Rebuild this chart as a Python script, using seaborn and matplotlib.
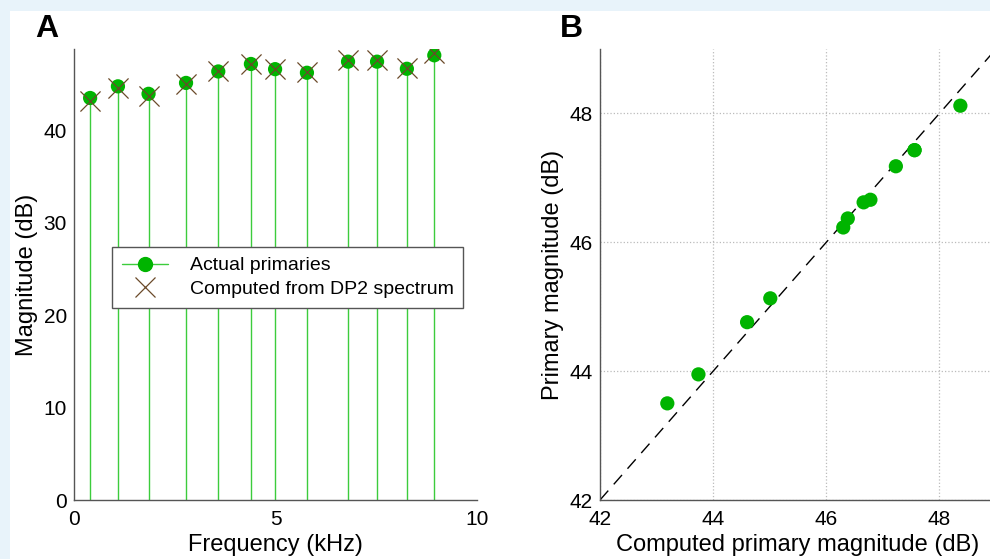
import numpy as np
import pandas as pd
import matplotlib.pyplot as plt
import seaborn as sns
from matplotlib.lines import Line2D
from matplotlib.patches import Rectangle
from matplotlib.legend_handler import HandlerLine2D

# primary frequencies (kHz) and magnitudes (dB)
freq_khz = [0.40, 1.09, 1.85, 2.78, 3.58, 4.39, 4.99, 5.78, 6.80, 7.52, 8.26, 8.94]
actual_db = [43.50, 44.76, 43.95, 45.13, 46.37, 47.18, 46.62, 46.23, 47.43, 47.43, 46.66, 48.12]
computed_db = [43.19, 44.60, 43.74, 45.01, 46.38, 47.23, 46.66, 46.30, 47.56, 47.56, 46.78, 48.37]

green = '#00b400'
stem_green = '#3ccc3c'
cross_col = '#6b4a2a'

df = pd.DataFrame({'freq': freq_khz, 'actual': actual_db, 'computed': computed_db})

sns.set_style('white')
plt.rcParams['font.family'] = ['Liberation Sans', 'DejaVu Sans']
plt.rcParams['text.color'] = 'black'
plt.rcParams['axes.labelcolor'] = 'black'
plt.rcParams['xtick.color'] = 'black'
plt.rcParams['ytick.color'] = 'black'


class StemHandler(HandlerLine2D):
    # line with the marker at its right end, like the stem legend in the original
    def get_xdata(self, legend, xdescent, ydescent, width, height, fontsize):
        xdata, _ = super().get_xdata(legend, xdescent, ydescent, width, height, fontsize)
        return xdata, [xdata[-1]]


W, H = 990, 559
fig = plt.figure(figsize=(W / 100, H / 100), dpi=100, facecolor='#e8f3fa')
fig.patches.append(Rectangle((10 / W, 0), 1, 1 - 11 / H, transform=fig.transFigure,
                             facecolor='white', edgecolor='none', zorder=-5))

def px_axes(left, top, right, bottom):
    return fig.add_axes([left / W, 1 - bottom / H, (right - left) / W, (bottom - top) / H])

###################################################
# panel A

ax1 = px_axes(74, 49, 477, 500)
ax1.set_facecolor('none')
ax1.vlines(df['freq'], 0, df['actual'], color=stem_green, lw=1, zorder=1)
sns.scatterplot(data=df, x='freq', y='actual', ax=ax1, color=green, s=105,
                edgecolor='none', zorder=3, legend=False)
sns.scatterplot(data=df, x='freq', y='computed', ax=ax1, color=cross_col, marker='x',
                s=210, linewidth=0.9, zorder=4, legend=False)
ax1.set_xlim(0, 10)
ax1.set_ylim(0, 48.8)
ax1.set_xticks([0, 5, 10])
ax1.set_yticks([0, 10, 20, 30, 40])
ax1.set_xlabel('Frequency (kHz)', fontsize=17)
ax1.set_ylabel('Magnitude (dB)', fontsize=17)

stem_handle = Line2D([], [], color=stem_green, lw=1, marker='o', markersize=10,
                     markerfacecolor=green, markeredgecolor=green)
cross_handle = Line2D([], [], color=cross_col, lw=0, marker='x', markersize=14, markeredgewidth=0.9)
ax1.legend([stem_handle, cross_handle], ['Actual primaries', 'Computed from DP2 spectrum'],
           handler_map={stem_handle: StemHandler()}, numpoints=1,
           loc='upper left', bbox_to_anchor=(112 / W, 1 - 247 / H), bbox_transform=fig.transFigure,
           fontsize=14, frameon=True, fancybox=False, edgecolor='#555555', framealpha=1,
           borderpad=0.5, labelspacing=0.3, handlelength=2.4, handletextpad=1.1, borderaxespad=0)

###################################################
# panel B

ax2 = px_axes(600, 49, 996, 500)
ax2.set_facecolor('none')
ax2.grid(True, linestyle=':', color='#bbbbbb', lw=0.9)
ax2.axline((42, 42), slope=1, color='black', lw=1, dashes=(9, 6), zorder=2)
sns.scatterplot(data=df, x='computed', y='actual', ax=ax2, color=green, s=105,
                edgecolor='none', zorder=3, legend=False)
ax2.set_xlim(42, 49)
ax2.set_ylim(42, 49)
ax2.set_xticks([42, 44, 46, 48])
ax2.set_yticks([42, 44, 46, 48])
ax2.set_xlabel('Computed primary magnitude (dB)', fontsize=17)
ax2.set_ylabel('Primary magnitude (dB)', fontsize=17)

for ax in (ax1, ax2):
    sns.despine(ax=ax)
    for s in ('left', 'bottom'):
        ax.spines[s].set_color('#555555')
        ax.spines[s].set_linewidth(1)
    ax.tick_params(direction='in', length=4, labelsize=15, color='#555555', labelcolor='black')
    ax.tick_params(axis='x', pad=7)
    ax.tick_params(axis='y', pad=5)
    ax.xaxis.labelpad = 4
    ax.yaxis.labelpad = 4

fig.text(35 / W, 1 - 29 / H, 'A', fontsize=23, fontweight='bold', va='center', ha='left')
fig.text(560 / W, 1 - 29 / H, 'B', fontsize=23, fontweight='bold', va='center', ha='left')

fig.savefig('out.png', dpi=100, facecolor=fig.get_facecolor())
plt.close()
